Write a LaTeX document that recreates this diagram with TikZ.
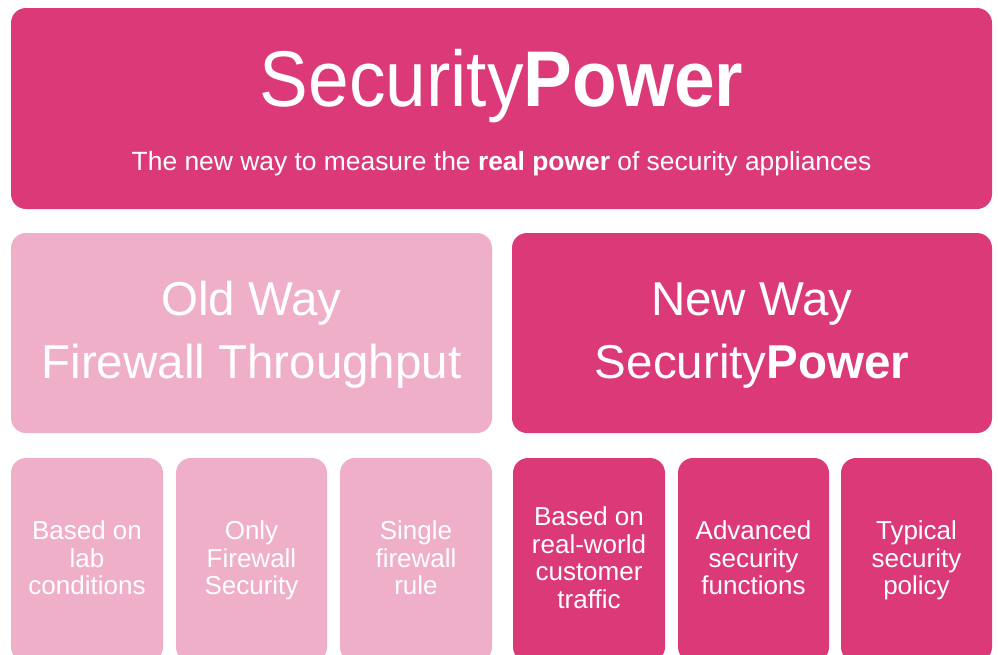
\documentclass[tikz,border=0pt]{standalone}
\usepackage{fontspec}
\usepackage{graphicx}
\setmainfont{Liberation Sans}
\definecolor{spdark}{RGB}{220,57,120}
\definecolor{splight}{RGB}{239,175,200}
\newcommand{\firstln}{\vphantom{Bd}}
\newcommand{\lastln}{\vphantom{y}}
\begin{document}
\begin{tikzpicture}[x=1pt,y=-1pt,
  panel/.style={rounded corners=15pt},
  darkpanel/.style={panel,fill=spdark},
  lightpanel/.style={panel,fill=splight},
  ptext/.style={text=white,inner sep=0pt,align=center},
  feat/.style={ptext,font=\fontsize{26}{27.5}\selectfont},
  big/.style={ptext,font=\fontsize{47.5}{63}\selectfont}]
\useasboundingbox (0,0) rectangle (998,654);
\clip (0,0) rectangle (998,654);
% header banner
\fill[darkpanel] (11,8) rectangle (992,209);
\node[ptext,anchor=base,font=\fontsize{79}{85}\selectfont] (title) at (501.5,106) {\scalebox{0.925}[1]{Security\textbf{Power}}};
\node[ptext,anchor=base,font=\fontsize{26.4}{30}\selectfont] (sub) at (501.5,170) {The new way to measure the \textbf{real power} of security appliances};
% old and new way panels
\fill[lightpanel] (11,233) rectangle (492,433);
\fill[darkpanel] (512,233) rectangle (992,433);
\node[big,anchor=base] (old1) at (251.5,315) {Old Way};
\node[big,anchor=base] (old2) at (251.5,378) {Firewall Throughput};
\node[big,anchor=base] (new1) at (752,315) {New Way};
\node[big,anchor=base] (new2) at (752,378) {Security\textbf{Power}};
% feature boxes
\fill[lightpanel] (11,458) rectangle (163,662);
\fill[lightpanel] (176,458) rectangle (327,662);
\fill[lightpanel] (340,458) rectangle (492,662);
\fill[darkpanel] (513,458) rectangle (665,662);
\fill[darkpanel] (678,458) rectangle (829,662);
\fill[darkpanel] (841,458) rectangle (992,662);
\node[feat] (f1) at (87,560.5) {\firstln Based on\\lab\\conditions\lastln};
\node[feat] (f2) at (251.5,560.5) {\firstln Only\\Firewall\\Security\lastln};
\node[feat] (f3) at (416,560.5) {\firstln Single\\firewall\\rule\lastln};
\node[feat] (f4) at (589,560.5) {\firstln Based on\\real-world\\customer\\traffic\lastln};
\node[feat] (f5) at (753.5,560.5) {\firstln Advanced\\security\\functions\lastln};
\node[feat] (f6) at (916.5,560.5) {\firstln Typical\\security\\policy\lastln};
\end{tikzpicture}
\end{document}
